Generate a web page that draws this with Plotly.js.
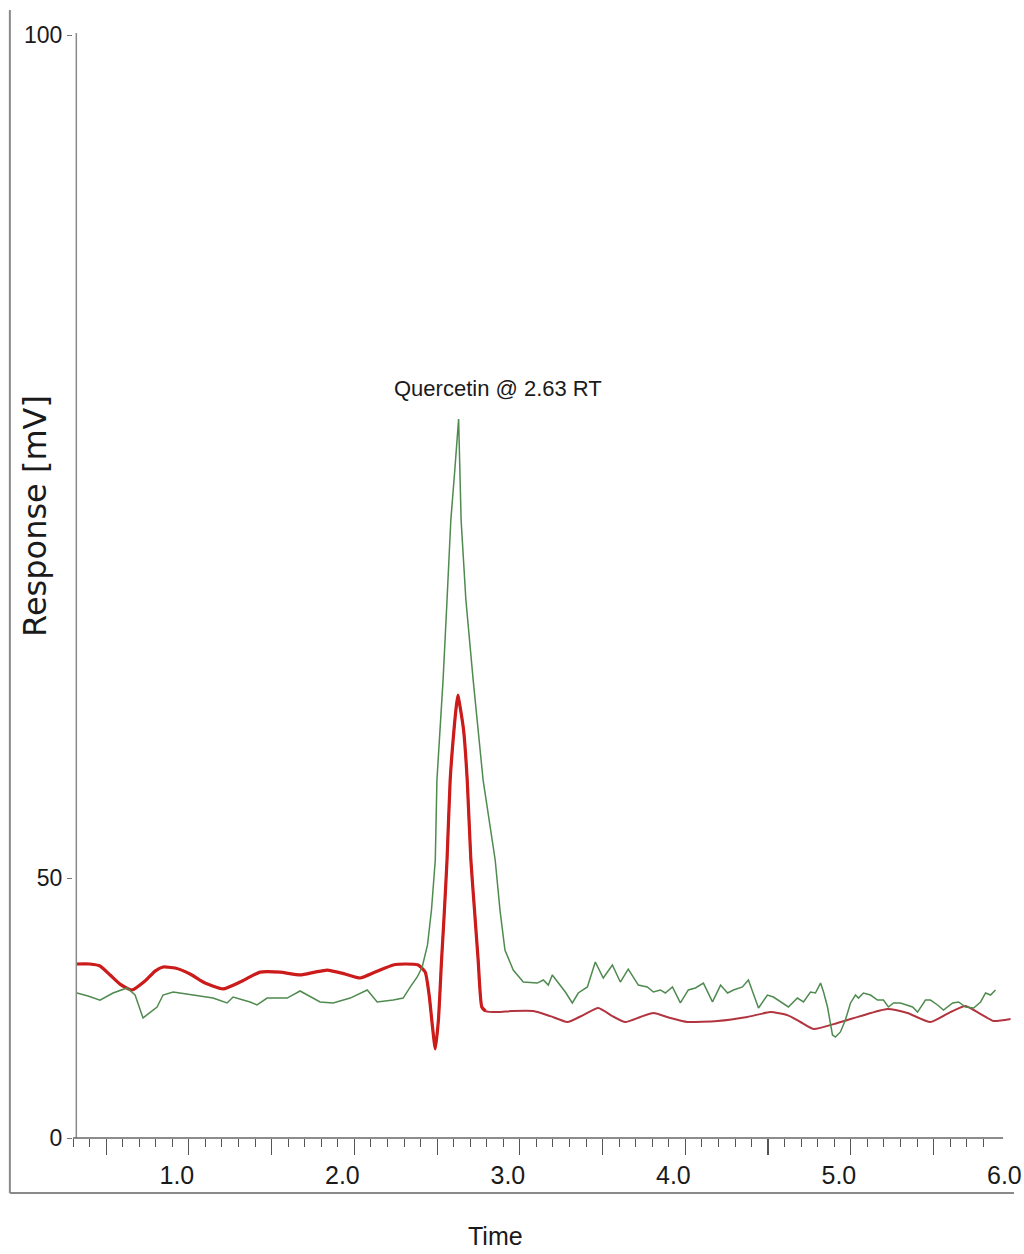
<!DOCTYPE html>
<html>
<head>
<meta charset="utf-8">
<script src="https://cdn.plot.ly/plotly-3.0.1.min.js"></script>
<style>html,body{margin:0;padding:0;background:#fff}</style>
</head>
<body>
<div id="chart" style="width:1024px;height:1254px"></div>
<script>
// Detector traces: retention time (min) against response
const redTime = [0.318,0.403,0.463,0.524,0.584,0.657,0.735,0.796,0.844,0.917,
  1.007,1.098,1.207,1.310,1.431,1.551,1.672,1.763,1.836,1.944,
  2.035,2.126,2.235,2.307,2.386,2.428,2.452,2.471,2.489,2.508,
  2.527,2.541,2.560,2.579,2.602,2.617,2.626,2.634,2.660,2.682,
  2.704,2.726,2.748,2.770,2.792,2.865,2.954,3.081,3.184,3.287,
  3.383,3.474,3.559,3.637,3.728,3.807,3.909,4.012,4.194,4.375,
  4.514,4.617,4.695,4.774,4.919,5.058,5.221,5.342,5.481,5.602,
  5.693,5.784,5.862,5.965];
const redResponse = [44.90,44.90,44.78,44.25,43.71,43.36,43.89,44.48,44.72,44.66,
  44.31,43.77,43.42,43.83,44.42,44.42,44.25,44.42,44.54,44.31,
  44.07,44.42,44.84,44.90,44.84,44.42,43.06,41.28,39.86,41.58,
  45.14,47.51,51.07,55.81,58.78,60.26,60.85,60.44,58.78,55.81,
  51.07,48.10,45.14,42.35,42.11,42.05,42.11,42.11,41.81,41.46,
  41.87,42.29,41.81,41.46,41.76,41.99,41.70,41.46,41.52,41.76,
  42.05,41.87,41.46,41.04,41.40,41.81,42.23,41.99,41.46,42.05,
  42.41,41.93,41.52,41.64];

const quercetinRT = 2.63;
const greenTime = [0.324,0.391,0.463,0.542,0.626,0.675,0.723,0.766,0.808,0.844,
  0.905,1.026,1.146,1.231,1.267,1.370,1.412,1.473,1.594,1.672,
  1.715,1.793,1.872,1.975,2.078,2.138,2.235,2.295,2.338,2.380,
  2.410,2.442,2.466,2.489,2.499,2.536,2.560,2.583,2.607,quercetinRT,
  2.645,2.674,2.718,2.778,2.851,2.880,2.910,2.960,3.021,3.105,
  3.142,3.172,3.196,3.232,3.275,3.317,3.353,3.408,3.456,3.504,
  3.559,3.607,3.655,3.716,3.770,3.807,3.849,3.879,3.922,3.970,
  4.018,4.061,4.109,4.164,4.213,4.255,4.291,4.345,4.381,4.442,
  4.496,4.532,4.587,4.623,4.677,4.714,4.756,4.786,4.817,4.835,
  4.859,4.877,4.889,4.907,4.937,4.967,4.998,5.028,5.046,5.076,
  5.119,5.161,5.197,5.227,5.258,5.300,5.342,5.373,5.403,5.451,
  5.481,5.524,5.560,5.615,5.651,5.693,5.742,5.784,5.814,5.844,
  5.874];
const greenResponse = [43.18,43.00,42.76,43.18,43.48,43.06,41.70,42.05,42.35,43.06,
  43.24,43.06,42.88,42.59,42.94,42.65,42.47,42.88,42.88,43.30,
  43.06,42.65,42.59,42.88,43.36,42.65,42.76,42.88,43.54,44.13,
  44.72,46.03,48.10,51.07,55.81,61.74,66.49,71.23,74.20,77.22,
  71.23,66.49,61.74,55.81,51.07,48.10,45.73,44.54,43.83,43.77,
  43.95,43.65,44.25,43.77,43.24,42.59,43.18,43.54,45.02,44.07,
  44.84,43.83,44.60,43.65,43.54,43.24,43.36,43.18,43.54,42.59,
  43.36,43.48,43.77,42.65,43.65,43.18,43.36,43.54,43.95,42.29,
  43.06,42.94,42.59,42.35,42.88,42.65,43.24,43.18,43.77,43.24,
  42.35,41.46,40.69,40.57,40.87,41.58,42.59,43.06,42.88,43.18,
  43.06,42.76,42.76,42.35,42.59,42.59,42.47,42.35,42.05,42.76,
  42.76,42.47,42.17,42.59,42.65,42.35,42.29,42.65,43.18,43.06,
  43.36];

// Axis ticks
const timeTickVals = [1, 2, 3, 4, 5, 6];
const timeTickText = ['1.0', '2.0', '3.0', '4.0', '5.0', '6.0'];
const halfTickVals = [0.5, 1.0, 1.5, 2.0, 2.5, 3.0, 3.5, 4.0, 4.5, 5.0, 5.5];
const responseTickVals = [34.58, 50, 100];
const responseTickText = ['0', '50', '100'];

const timeRange = [0.3, 6.01];
const responseRange = [34.58, 100.12];

// short ticks every 0.1 min between the half-minute marks
const tenthTickVals = [];
for (let k = 3; k <= 58; k++) {
  if (k % 5 !== 0) tenthTickVals.push(k / 10);
}

const SANS = '"Liberation Sans", Arial, Helvetica, sans-serif';
const TEXT = '#1a1a1a';

// the heavier stroke covers the baseline and the peak up to its tail
const tailIndex = redTime.findIndex(t => t > 2.78);

const traces = [
  {
    x: redTime, y: redResponse, type: 'scatter', mode: 'lines',
    line: {color: '#b2343e', width: 2, shape: 'spline', smoothing: 0.5},
    hoverinfo: 'skip', showlegend: false
  },
  {
    x: redTime.slice(0, tailIndex + 1), y: redResponse.slice(0, tailIndex + 1),
    type: 'scatter', mode: 'lines',
    line: {color: '#cc1b1b', width: 3.2, shape: 'spline', smoothing: 0.5},
    hoverinfo: 'skip', showlegend: false
  },
  {
    x: greenTime, y: greenResponse, type: 'scatter', mode: 'lines',
    xaxis: 'x2',
    line: {color: '#4f8a4f', width: 1.5},
    hoverinfo: 'skip', showlegend: false
  }
];

const apexResponse = Math.max(...greenResponse);

const layout = {
  width: 1024, height: 1254,
  margin: {l: 73, r: 6, t: 33, b: 116, pad: 0},
  paper_bgcolor: '#ffffff', plot_bgcolor: '#ffffff',
  showlegend: false,
  xaxis: {
    range: timeRange, showgrid: false, zeroline: false, showline: false,
    tickmode: 'array', tickvals: halfTickVals, showticklabels: false,
    ticks: 'outside', ticklen: 16, tickwidth: 1.2, tickcolor: '#555',
    minor: {tickmode: 'array', tickvals: tenthTickVals, ticks: 'outside',
            ticklen: 8, tickwidth: 1, tickcolor: '#555', showgrid: false}
  },
  xaxis2: {
    overlaying: 'x', anchor: 'y', side: 'bottom', matches: 'x',
    range: timeRange, showgrid: false, zeroline: false, showline: false,
    tickmode: 'array', tickvals: timeTickVals, ticktext: timeTickText,
    ticks: '', ticklabelshift: -12, ticklabelstandoff: 20,
    tickfont: {family: SANS, size: 25, color: TEXT}
  },
  yaxis: {
    range: responseRange, showgrid: false, zeroline: false, showline: false,
    tickmode: 'array', tickvals: responseTickVals, ticktext: responseTickText,
    ticks: 'outside', ticklen: 5, tickwidth: 1, tickcolor: '#777',
    ticklabelstandoff: 0,
    tickfont: {family: SANS, size: 23, color: TEXT}
  },
  shapes: [
    // response axis line
    {type: 'line', xref: 'x', yref: 'paper', x0: 0.32, x1: 0.32, y0: 0, y1: 1,
     line: {color: '#8a8a8a', width: 1.5}},
    // time axis line
    {type: 'line', xref: 'x', yref: 'paper', x0: 0.3, x1: 5.92, y0: 0, y1: 0,
     line: {color: '#666', width: 1.5}},
    // outer frame, left and bottom
    {type: 'line', xref: 'paper', yref: 'paper', x0: -0.0668, x1: -0.0668, y0: -0.0498, y1: 1.0208,
     line: {color: '#8a8a8a', width: 2}},
    {type: 'line', xref: 'paper', yref: 'paper', x0: -0.0668, x1: 0.9958, y0: -0.0498, y1: -0.0498,
     line: {color: '#8a8a8a', width: 2}}
  ],
  annotations: [
    {
      x: quercetinRT, y: apexResponse, xref: 'x', yref: 'y',
      text: 'Quercetin @ ' + quercetinRT.toFixed(2) + ' RT',
      showarrow: false, xanchor: 'center', yanchor: 'middle',
      xshift: 39, yshift: 31,
      font: {family: SANS, size: 22, color: TEXT}
    },
    {
      x: -0.0403, y: 0.5629, xref: 'paper', yref: 'paper',
      text: 'Response [mV]', textangle: -90, showarrow: false,
      xanchor: 'center', yanchor: 'middle',
      font: {family: '"DejaVu Sans", "Liberation Sans", Arial, sans-serif', size: 32, color: TEXT}
    },
    {
      x: 0.4475, y: -0.0887, xref: 'paper', yref: 'paper',
      text: 'Time', showarrow: false, xanchor: 'center', yanchor: 'middle',
      font: {family: SANS, size: 25, color: TEXT}
    }
  ]
};

Plotly.newPlot('chart', traces, layout, {displayModeBar: false, staticPlot: true});
</script>
</body>
</html>
